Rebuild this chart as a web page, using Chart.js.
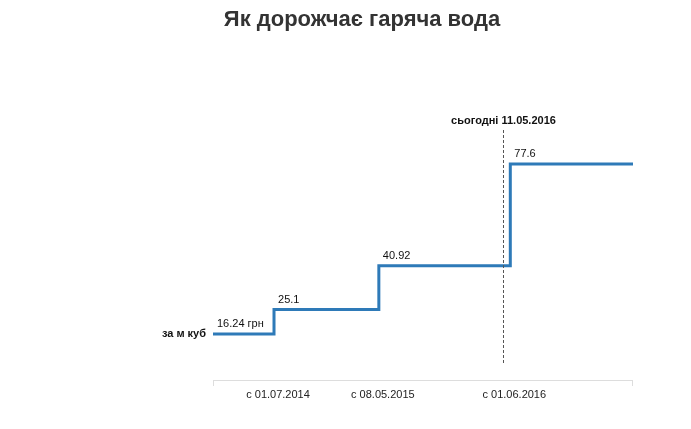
<!DOCTYPE html>
<html><head><meta charset="utf-8">
<script src="https://cdn.jsdelivr.net/npm/chart.js@4"></script>
<style>body{margin:0;background:#fff}#wrap{width:691px;height:429px}</style>
</head><body><div id="wrap"><canvas id="c"></canvas></div>
<script>
// days since 01.01.2014
const stepDays = [0, 181, 492, 882, 1246];
const prices = [16.24, 25.1, 40.92, 77.6, 77.6];
const priceLabels = ["16.24 грн", "25.1", "40.92", "77.6"];
const tickDays = [181, 492, 882];
const tickLabels = ["с 01.07.2014", "с 08.05.2015", "с 01.06.2016"];
const todayDay = 861;
const todayLabel = "сьогодні 11.05.2016";

const extras = {
  id: "extras",
  afterDraw(chart){
    const {ctx, scales:{x, y}, chartArea:a} = chart;
    ctx.save();
    ctx.fillStyle = "#333";
    ctx.font = "bold 22px 'Liberation Sans', Arial, sans-serif";
    ctx.textAlign = "center"; ctx.textBaseline = "middle";
    ctx.fillText("Як дорожчає гаряча вода", 362, 20);
    // axis
    ctx.strokeStyle = "#ddd"; ctx.lineWidth = 1;
    ctx.beginPath();
    ctx.moveTo(a.left, 380.5); ctx.lineTo(a.right, 380.5);
    ctx.moveTo(a.left+0.5, 380); ctx.lineTo(a.left+0.5, 386);
    ctx.moveTo(a.right-0.5, 380); ctx.lineTo(a.right-0.5, 386);
    ctx.stroke();
    ctx.fillStyle = "#222";
    ctx.font = "11px 'Liberation Sans', Arial, sans-serif";
    tickDays.forEach((d,i)=>ctx.fillText(tickLabels[i], x.getPixelForValue(d)+4, 395));
    // today line
    const tx = Math.round(x.getPixelForValue(todayDay)) + 0.5;
    ctx.strokeStyle = "#555"; ctx.setLineDash([3,2]);
    ctx.beginPath(); ctx.moveTo(tx, 130); ctx.lineTo(tx, 364); ctx.stroke();
    ctx.setLineDash([]);
    ctx.font = "bold 11px 'Liberation Sans', Arial, sans-serif";
    ctx.fillStyle = "#111";
    ctx.fillText(todayLabel, tx, 121);
    // value labels
    ctx.font = "11px 'Liberation Sans', Arial, sans-serif";
    ctx.textAlign = "left";
    priceLabels.forEach((t,i)=>ctx.fillText(t, x.getPixelForValue(stepDays[i])+4, y.getPixelForValue(prices[i])-10));
    ctx.font = "bold 11px 'Liberation Sans', Arial, sans-serif";
    ctx.textAlign = "right";
    ctx.fillText("за м куб", 206, y.getPixelForValue(prices[0]));
    ctx.restore();
  }
};

new Chart(document.getElementById("c"), {
  type: "line",
  data: { datasets: [{
    data: stepDays.map((d,i)=>({x:d, y:prices[i]})),
    stepped: "before", borderColor: "#2e7ab8", borderWidth: 3, pointRadius: 0, fill: false
  }]},
  options: {
    responsive: true, maintainAspectRatio: false, animation: false,
    layout: { padding: { left: 213, right: 58, top: 102, bottom: 50 } },
    scales: {
      x: { type: "linear", min: 0, max: 1246, display: false },
      y: { min: 0, max: 100, display: false }
    },
    plugins: { legend: { display: false }, tooltip: { enabled: false } }
  },
  plugins: [extras]
});
</script></body></html>
